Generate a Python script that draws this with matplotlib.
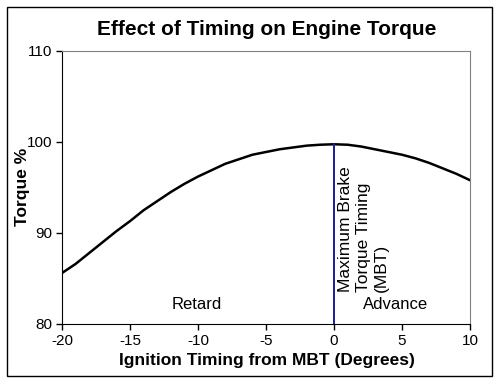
import matplotlib
matplotlib.use("Agg")
import matplotlib.pyplot as plt
from matplotlib.patches import Rectangle

timing = list(range(-20, 11))
torque = [85.6, 86.6, 87.8, 89.0, 90.2, 91.3, 92.5, 93.5, 94.5, 95.4,
          96.2, 96.9, 97.6, 98.1, 98.6, 98.9, 99.2, 99.4, 99.6, 99.7,
          99.75, 99.7, 99.5, 99.2, 98.9, 98.6, 98.2, 97.7, 97.1, 96.5, 95.8]
mbt_x = 0
mbt_top = 99.75
xticks = [-20, -15, -10, -5, 0, 5, 10]
yticks = [80, 90, 100, 110]

plt.rcParams['font.family'] = ['Liberation Sans', 'DejaVu Sans']
plt.rcParams['axes.unicode_minus'] = False

fig = plt.figure(figsize=(5, 3.84), dpi=100)
ax = fig.add_axes([0.124, 0.1563, 0.816, 0.7109])

ax.plot(timing, torque, color='black', lw=1.8)
ax.plot([mbt_x, mbt_x], [80, mbt_top], color='#1a1a9e', lw=1.4)

ax.set_xlim(-20, 10)
ax.set_ylim(80, 110)
ax.set_xticks(xticks)
ax.set_yticks(yticks)
ax.tick_params(direction='out', length=4, width=1, labelsize=11, colors='black', pad=3)
for s in ['top', 'right']:
    ax.spines[s].set_color('#808080')
for s in ['left', 'bottom']:
    ax.spines[s].set_color('black')

ax.text(-10.1, 82.1, 'Retard', ha='center', va='center', fontsize=12)
ax.text(4.5, 82.1, 'Advance', ha='center', va='center', fontsize=12)
ax.text(0.3, 83.55, 'Maximum Brake\nTorque Timing\n(MBT)', rotation=90,
        ha='left', va='bottom', multialignment='left', fontsize=12.5, linespacing=1.25)

fig.text(0.534, 0.924, 'Effect of Timing on Engine Torque', ha='center', va='center',
         fontsize=15, fontweight='bold')
fig.text(0.534, 0.062, 'Ignition Timing from MBT (Degrees)', ha='center', va='center',
         fontsize=12.5, fontweight='bold')
fig.text(0.046, 0.513, 'Torque %', ha='center', va='center', rotation=90,
         fontsize=12.5, fontweight='bold')

fig.patches.append(Rectangle((7/500, 8/384), 485/500, 369/384, transform=fig.transFigure,
                             fill=False, edgecolor='black', lw=1))

fig.savefig('out.png', dpi=100)
